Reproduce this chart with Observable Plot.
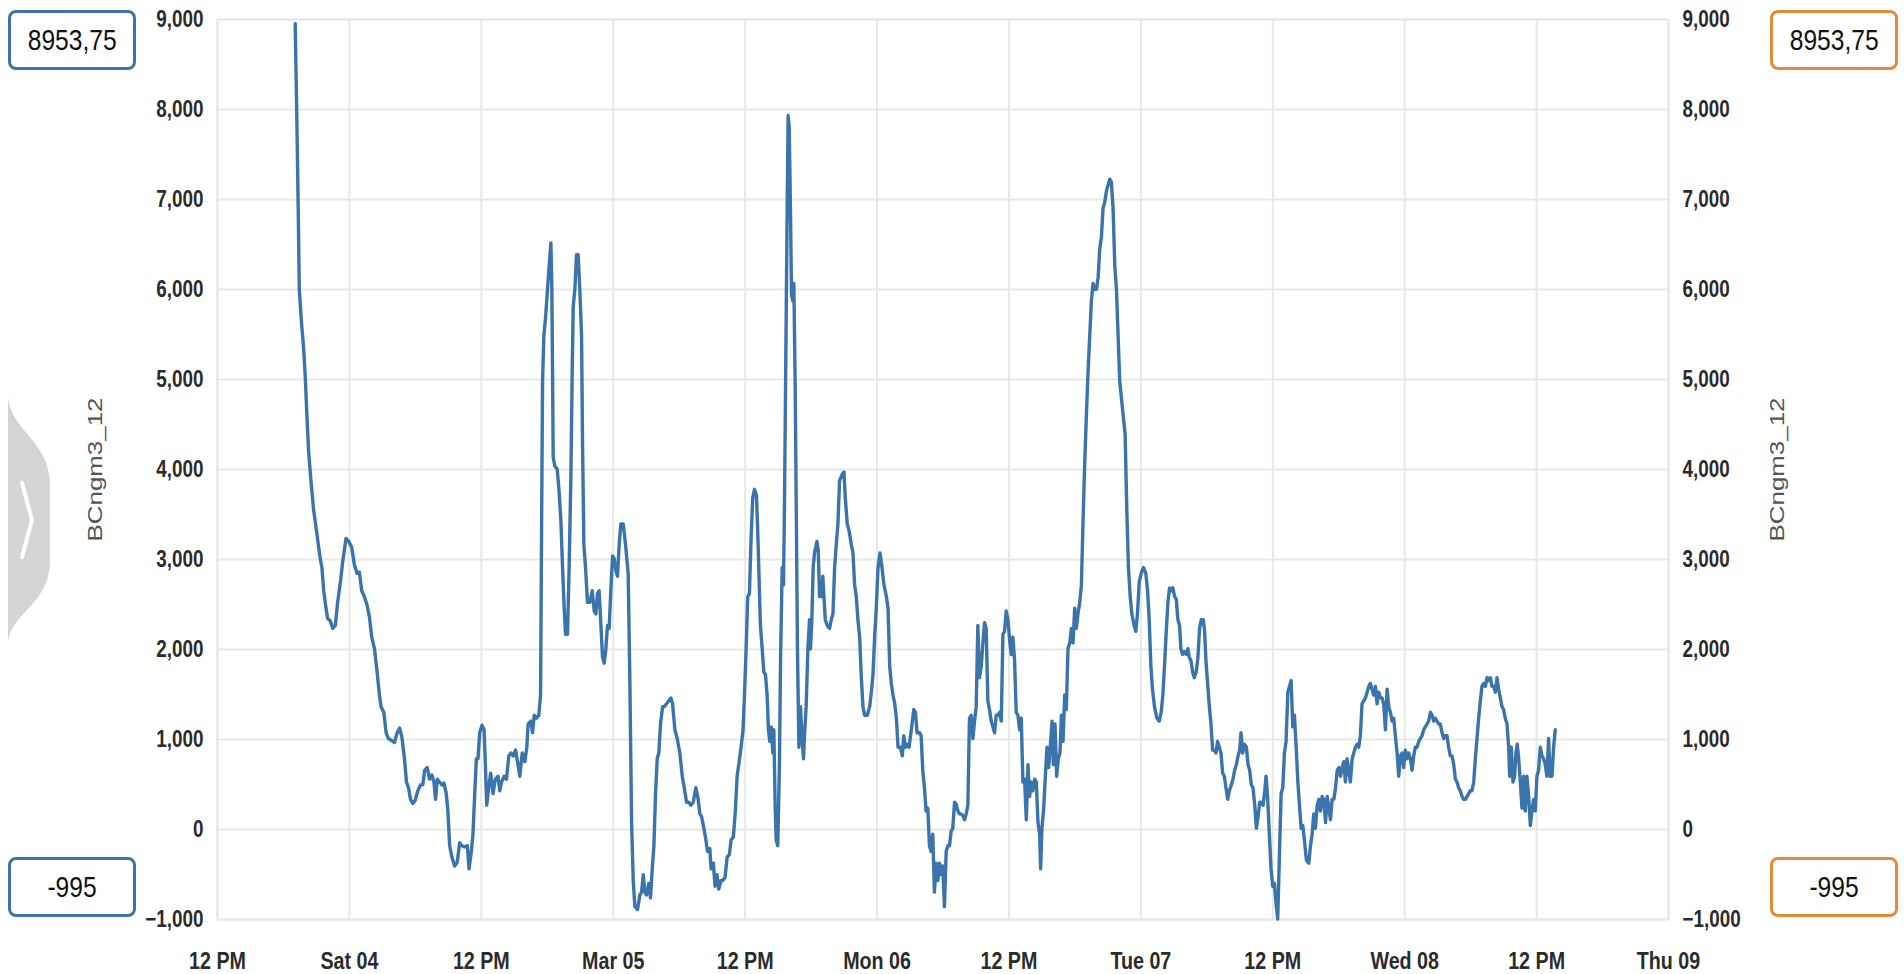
<!DOCTYPE html>
<html>
<head>
<meta charset="utf-8">
<script src="https://cdn.jsdelivr.net/npm/d3@7"></script>
<script src="https://cdn.jsdelivr.net/npm/@observablehq/plot@0.6"></script>
<style>
  html, body { margin: 0; padding: 0; background: #fff; }
  #wrap { position: relative; width: 1904px; height: 974px; overflow: hidden; font-family: "Liberation Sans", Arial, sans-serif; }
  #chart { position: absolute; left: 0; top: 0; }
  .box { position: absolute; box-sizing: border-box; width: 128px; height: 60px; border: 3px solid; border-radius: 8px; background: #fff;
         display: flex; align-items: center; justify-content: center; font-size: 30px; color: #111; }
  .box span { display: inline-block; transform: scaleX(0.82); white-space: nowrap; }
  .blue { border-color: #3b73ab; }
  .orange { border-color: #e8883a; }
  #tab { position: absolute; left: 0; top: 0; }
</style>
</head>
<body>
<div id="wrap">
  <div id="chart"></div>
  <svg id="tab" width="60" height="974">
    <path d="M8,397 C12,432 48,440 50,482 L50,563 C48,605 12,612 8,642 Z" fill="#d4d4d4"/>
    <polyline points="22,483 32,520 22,557" fill="none" stroke="#fff" stroke-width="4" stroke-linecap="round" stroke-linejoin="round"/>
  </svg>
  <div class="box blue" style="left:8px; top:10px;"><span id="maxL"></span></div>
  <div class="box blue" style="left:8px; top:857px;"><span id="minL"></span></div>
  <div class="box orange" style="left:1770px; top:10px;"><span id="maxR"></span></div>
  <div class="box orange" style="left:1770px; top:857px;"><span id="minR"></span></div>
</div>
<script>
// ---- data (hours after 2023-03-03 12:00, BCngm3_12 values) ----
const startDate = new Date(2023, 2, 3, 12, 0, 0);
const seriesName = "BCngm3_12";
const hours = [
  7.07,7.23,7.35,7.44,7.65,7.83,7.98,8.14,8.29,8.50,8.74,8.96,9.17,9.35,9.50,9.66,9.87,10.02,10.26,10.48,
  10.72,10.93,11.18,11.39,11.69,11.94,12.21,12.45,12.70,12.91,13.12,13.36,13.61,13.82,14.03,14.28,14.52,14.73,14.88,15.13,
  15.34,15.55,15.80,16.10,16.34,16.56,16.77,17.01,17.19,17.38,17.56,17.77,17.98,18.23,18.47,18.68,18.84,19.08,19.29,19.50,
  19.69,19.84,19.99,20.20,20.42,20.60,20.81,20.96,21.12,21.33,21.57,21.81,22.03,22.24,22.48,22.73,22.88,23.09,23.24,23.40,
  23.55,23.70,23.85,24.06,24.25,24.37,24.49,24.67,24.85,25.07,25.28,25.52,
  25.68,25.84,26.08,26.29,26.50,26.69,26.90,27.11,27.29,27.50,27.72,27.96,28.14,28.26,28.51,28.66,28.81,29.02,29.23,29.39,
  29.48,29.57,29.69,29.84,30.02,30.17,30.33,30.42,30.54,30.69,30.90,31.08,31.24,31.39,31.54,31.66,31.84,31.99,32.15,32.27,
  32.36,32.51,32.66,32.81,32.96,33.12,33.21,33.33,33.48,33.66,33.87,34.09,34.27,34.42,34.57,34.72,34.88,35.03,35.18,35.33,
  35.48,35.63,35.78,35.94,36.09,36.24,36.39,36.54,36.69,36.91,37.12,37.36,37.51,37.67,37.82,37.97,38.21,38.42,38.58,38.73,
  38.88,39.03,39.24,39.39,39.55,39.70,39.85,40.00,40.15,40.30,40.49,40.64,40.85,41.06,41.24,41.40,41.61,41.82,42.06,42.28,
  42.46,42.67,42.88,43.06,43.28,43.52,43.73,43.88,44.04,44.25,44.43,44.58,44.79,
  44.90,45.11,45.26,45.44,45.60,45.81,45.96,46.17,46.36,46.57,46.72,46.93,47.11,47.27,47.42,47.63,47.81,47.94,48.09,48.24,
  48.39,48.54,48.69,48.85,49.03,49.15,49.27,49.39,49.55,49.70,49.85,50.00,50.12,50.24,50.37,50.52,50.61,50.73,50.82,50.97,
  51.12,51.22,51.37,51.49,51.58,51.70,51.82,51.91,52.01,52.13,52.22,52.34,52.43,52.55,52.67,52.76,52.89,53.04,53.16,53.31,
  53.40,53.55,53.71,53.86,53.95,54.07,54.19,54.31,54.53,54.65,54.77,54.92,55.07,55.17,55.29,55.47,55.68,55.83,55.99,56.14,
  56.29,56.44,56.59,56.81,56.99,57.11,57.29,57.44,57.66,57.81,57.96,58.11,58.26,58.42,58.57,58.72,58.87,59.11,59.33,59.48,
  59.63,59.78,59.93,60.09,60.27,60.45,60.63,60.85,61.00,61.15,61.30,61.45,61.61,61.76,61.91,62.12,62.30,62.43,62.58,62.76,
  62.91,63.12,63.34,63.49,63.64,63.88,
  64.01,64.16,64.31,64.46,64.62,64.77,64.92,65.07,65.22,65.37,65.53,65.68,65.83,65.98,66.13,66.29,66.44,66.59,66.74,66.89,
  67.05,67.20,67.35,67.50,67.65,67.80,67.96,68.11,68.26,68.41,68.56,68.72,68.87,69.02,69.17,69.32,69.48,69.63,69.78,69.93,
  70.08,70.23,70.39,70.54,70.69,70.84,70.99,71.15,71.30,71.45,71.60,71.75,71.91,72.06,72.21,72.36,72.51,72.66,72.82,72.97,
  73.12,73.27,73.42,73.58,73.73,73.88,74.03,74.18,74.34,74.49,74.64,74.79,74.88,75.00,75.16,75.31,75.46,75.61,75.76,75.92,
  76.04,76.19,76.34,76.49,76.64,76.77,76.92,77.07,77.22,77.37,77.53,77.68,77.83,77.98,78.13,78.28,78.44,78.59,78.74,78.89,
  79.04,79.20,79.35,79.50,79.65,79.80,79.96,80.11,80.26,80.41,80.56,80.71,80.87,81.02,81.17,81.32,81.47,81.63,81.78,81.93,
  82.08,
  82.57,82.72,82.87,83.03,83.18,83.39,83.54,83.69,83.85,84.03,84.24,84.45,84.61,84.76,84.91,85.06,85.24,85.46,85.67,85.85,
  86.00,86.15,86.31,86.46,86.61,86.76,86.91,87.07,87.22,87.37,87.52,87.64,87.79,87.98,88.13,88.28,88.40,88.55,88.71,88.86,
  89.04,89.19,89.34,89.50,89.68,89.80,89.92,90.07,90.23,90.38,90.53,90.68,90.83,90.98,91.14,91.29,91.44,91.59,91.74,91.90,
  92.05,92.23,92.38,92.53,92.69,92.84,92.99,93.11,93.26,93.41,93.60,93.75,93.90,94.05,94.20,94.36,94.51,94.66,94.81,94.96,
  95.12,95.27,95.39,95.54,95.69,95.84,96.00,96.15,96.30,96.45,96.60,96.76,96.91,97.06,97.21,97.37,97.52,97.67,97.82,97.97,
  98.13,98.28,98.43,98.58,98.73,98.88,99.06,99.28,99.43,99.58,99.73,99.88,100.04,100.19,100.34,100.49,100.64,100.80,100.95,101.10,
  101.25,101.40,101.56,101.71,101.86,102.01,102.16,
  102.31,102.46,102.61,102.76,102.91,103.06,103.22,103.37,103.52,103.67,103.82,103.97,104.12,104.28,104.43,104.58,104.73,104.88,105.03,105.18,
  105.34,105.49,105.64,105.79,105.94,106.09,106.25,106.40,106.55,106.70,106.85,107.00,107.15,107.31,107.46,107.61,107.76,107.91,108.06,108.21,
  108.37,108.52,108.67,108.82,108.97,109.12,109.28,109.43,109.58,109.73,109.88,110.03,110.18,110.34,110.49,110.64,110.79,110.94,111.09,111.24,
  111.40,111.55,111.70,111.85,112.00,112.15,112.31,112.46,112.61,112.76,112.91,113.06,113.22,113.37,113.52,113.67,113.82,113.97,114.12,114.28,
  114.43,114.58,114.73,114.88,115.03,115.18,115.34,115.49,115.64,115.79,115.94,116.09,116.25,116.40,116.55,116.70,116.85,117.00,117.15,117.31,
  117.46,117.55,117.70,117.85,118.00,118.12,118.24,118.37,118.52,118.67,118.82,118.97,119.12,119.28,119.43,119.58,119.73,119.88,120.03,120.18,
  120.34,120.49,120.64,120.79,120.94,121.09,121.24,121.40,121.55,121.70
];
const values = [
  8954,7805,6839,6002,5616,5358,5036,4585,4198,3877,3555,3362,3168,3007,2911,2653,2460,2344,2318,2235,
  2267,2524,2750,2975,3233,3201,3136,2943,2846,2859,2653,2589,2492,2363,2138,2009,1752,1494,1365,1301,
  1075,1011,992,966,1075,1127,1030,786,528,464,335,290,322,431,496,496,657,689,560,605,
  528,335,560,528,496,515,399,206,-180,-309,-406,-361,-148,-180,-193,-180,-438,-245,-52,399,
  786,786,1075,1159,1108,721,270,464,625,399,560,592,
  431,528,592,560,818,850,818,882,753,592,850,753,914,1172,1204,1075,1269,1236,1269,1494,
  3297,4972,5487,5680,6002,6260,6517,6002,4134,4038,4006,3748,3426,2911,2460,2170,2170,2911,3941,5100,
  5809,6002,6388,6388,6002,5487,4263,3168,2911,2524,2524,2653,2428,2396,2621,2653,2267,1913,1848,2009,
  2267,2235,2653,3040,3007,2879,2814,3168,3394,3394,3168,2846,1687,77,-567,-857,-889,-728,-696,-502,
  -696,-728,-599,-760,-438,-180,399,786,850,1172,1365,1365,1397,1430,1462,1397,1108,1011,850,592,
  464,303,303,270,303,464,335,174,142,13,-116,-245,-213,
  -438,-374,-631,-502,-663,-567,-567,-535,-309,-277,-116,-84,206,592,721,914,1108,1494,2009,2589,
  2621,3233,3684,3780,3716,3297,2782,2267,2009,1752,1719,1494,1108,979,1140,850,1108,270,-116,-180,
  721,1880,2911,2718,3619,5229,6839,7934,7805,6839,5938,5873,6066,4972,3297,2009,914,1365,1043,786,
  1043,1365,2009,2331,2009,2331,2911,3072,3201,3104,2589,2589,2814,2589,2331,2267,2235,2331,2396,2911,
  3168,3394,3877,3941,3973,3684,3394,3329,3168,3072,2718,2589,2331,2138,1687,1365,1269,1269,1365,1526,
  1719,2138,2460,2911,3072,2911,2718,2589,2460,1816,1623,1494,1397,1236,914,914,818,1043,914,947,
  914,1108,1333,1301,1075,1075,
  1043,657,464,206,238,-180,-245,-52,-696,-374,-567,-374,-502,-406,-857,-245,-180,-180,-19,13,
  303,283,206,174,174,155,109,174,270,1236,1269,1011,1204,1365,2267,1687,1816,2074,2299,2235,
  1430,1333,1204,1140,1075,1269,1269,1301,1204,2170,2202,2428,2331,2106,1945,2138,1880,1301,1269,1108,
  1236,528,560,109,721,367,528,431,560,528,77,-52,-438,13,238,592,914,689,914,1204,
  721,1172,592,786,850,1269,979,1494,1333,2009,2074,2235,2074,2460,2235,2396,2524,2718,3426,4070,
  4585,5100,5487,5873,6066,6002,6002,6131,6453,6581,6904,6968,7097,7161,7226,7193,6904,6260,6002,5487,
  4972,
  4392,3555,2911,2589,2396,2267,2202,2396,2750,2846,2911,2846,2653,2331,1816,1558,1365,1236,1204,1301,
  1494,1816,2202,2524,2685,2653,2685,2589,2557,2331,2267,2009,1945,1977,1945,2009,1913,1880,1752,1687,
  1752,1913,2235,2331,2331,2202,1880,1623,1365,1172,882,882,850,979,914,850,625,592,464,335,
  431,496,560,657,721,818,882,1075,850,947,914,721,657,496,464,270,13,142,303,303,
  270,431,592,335,-52,-438,-631,-599,-824,-995,-309,399,464,850,979,1526,1591,1655,1140,1269,
  914,528,270,13,45,-116,-341,-374,-180,-52,174,13,270,335,206,367,335,77,367,238,
  109,335,335,464,657,689,592,
  689,753,528,786,657,528,786,850,914,947,914,1043,1397,1430,1462,1526,1591,1623,1558,1494,
  1591,1397,1526,1462,1462,1397,1108,1558,1365,1301,1204,1236,1043,850,592,818,850,689,882,786,
  850,786,657,818,914,914,979,1011,1043,1108,1140,1172,1204,1301,1269,1204,1236,1204,1172,1172,
  1075,1011,1043,1043,914,818,818,721,560,528,464,431,367,335,335,367,399,431,431,528,
  786,1011,1236,1430,1591,1623,1591,1687,1655,1687,1591,1591,1526,1687,1558,1462,1365,1333,1236,1172,
  914,592,914,528,592,850,947,786,528,238,592,206,592,367,45,206,335,206,592,657,
  914,818,786,721,592,1011,592,592,914,1108
];
const xTickHours = [0, 12, 24, 36, 48, 60, 72, 84, 96, 108, 120, 132];
const xTickLabels = ["12 PM", "Sat 04", "12 PM", "Mar 05", "12 PM", "Mon 06", "12 PM", "Tue 07", "12 PM", "Wed 08", "12 PM", "Thu 09"];
const yTicks = [-1000, 0, 1000, 2000, 3000, 4000, 5000, 6000, 7000, 8000, 9000];
const rangeMaxLabel = "8953,75";
const rangeMinLabel = "-995";

// ---- build ----
const toDate = h => new Date(+startDate + h * 3600e3);
const data = hours.map((h, i) => ({date: toDate(h), value: values[i]}));
const xTicks = xTickHours.map(toDate);
const labelByTime = new Map(xTicks.map((d, i) => [+d, xTickLabels[i]]));

const axisFont = "'Liberation Sans', Arial, sans-serif";
const gridColor = "#e8e8e8";
const lineColor = "#3b73ab";

const chart = Plot.plot({
  width: 1904,
  height: 974,
  marginLeft: 217,
  marginRight: 236,
  marginTop: 19,
  marginBottom: 55,
  style: {fontFamily: axisFont, background: "transparent", overflow: "visible"},
  x: {type: "time", domain: [xTicks[0], xTicks[xTicks.length - 1]]},
  y: {domain: [-1000, 9000]},
  marks: [
    Plot.gridY(yTicks, {stroke: gridColor, strokeOpacity: 1, strokeWidth: 2}),
    Plot.gridX(xTicks, {stroke: gridColor, strokeOpacity: 1, strokeWidth: 2}),
    Plot.frame({stroke: gridColor, strokeWidth: 2}),
    Plot.lineY(data, {x: "date", y: "value", stroke: lineColor, strokeWidth: 3.4, strokeLinejoin: "round"}),
    Plot.axisY(yTicks, {anchor: "left", tickSize: 0, tickPadding: 14, tickFormat: d3.format(","), label: null,
      fontSize: 23, fontWeight: "bold", fill: "#2b2b2b", className: "condense"}),
    Plot.axisY(yTicks, {anchor: "right", tickSize: 0, tickPadding: 14, tickFormat: d3.format(","), label: null,
      fontSize: 23, fontWeight: "bold", fill: "#2b2b2b", className: "condense"}),
    Plot.axisX(xTicks, {anchor: "bottom", tickSize: 0, tickPadding: 32, tickFormat: d => labelByTime.get(+d), label: null,
      fontSize: 24, fontWeight: "bold", fill: "#2b2b2b", className: "condense"}),
    Plot.text([seriesName], {frameAnchor: "left", dx: -122, rotate: -90, textAnchor: "middle", lineAnchor: "middle",
      fontSize: 21, fill: "#555", className: "ytitle"}),
    Plot.text([seriesName], {frameAnchor: "right", dx: 109, rotate: -90, textAnchor: "middle", lineAnchor: "middle",
      fontSize: 21, fill: "#555", className: "ytitle"})
  ]
});
document.getElementById("chart").appendChild(chart);

// narrow the tick-label glyphs (the reference uses a condensed face)
chart.querySelectorAll(".condense text").forEach(el => {
  const len = el.getComputedTextLength();
  if (len > 0) {
    el.setAttribute("textLength", (len * 0.82).toFixed(2));
    el.setAttribute("lengthAdjust", "spacingAndGlyphs");
  }
});
d3.select(chart).selectAll(".ytitle text").attr("textLength", 144).attr("lengthAdjust", "spacingAndGlyphs");

document.getElementById("maxL").textContent = rangeMaxLabel;
document.getElementById("maxR").textContent = rangeMaxLabel;
document.getElementById("minL").textContent = rangeMinLabel;
document.getElementById("minR").textContent = rangeMinLabel;
</script>
</body>
</html>
